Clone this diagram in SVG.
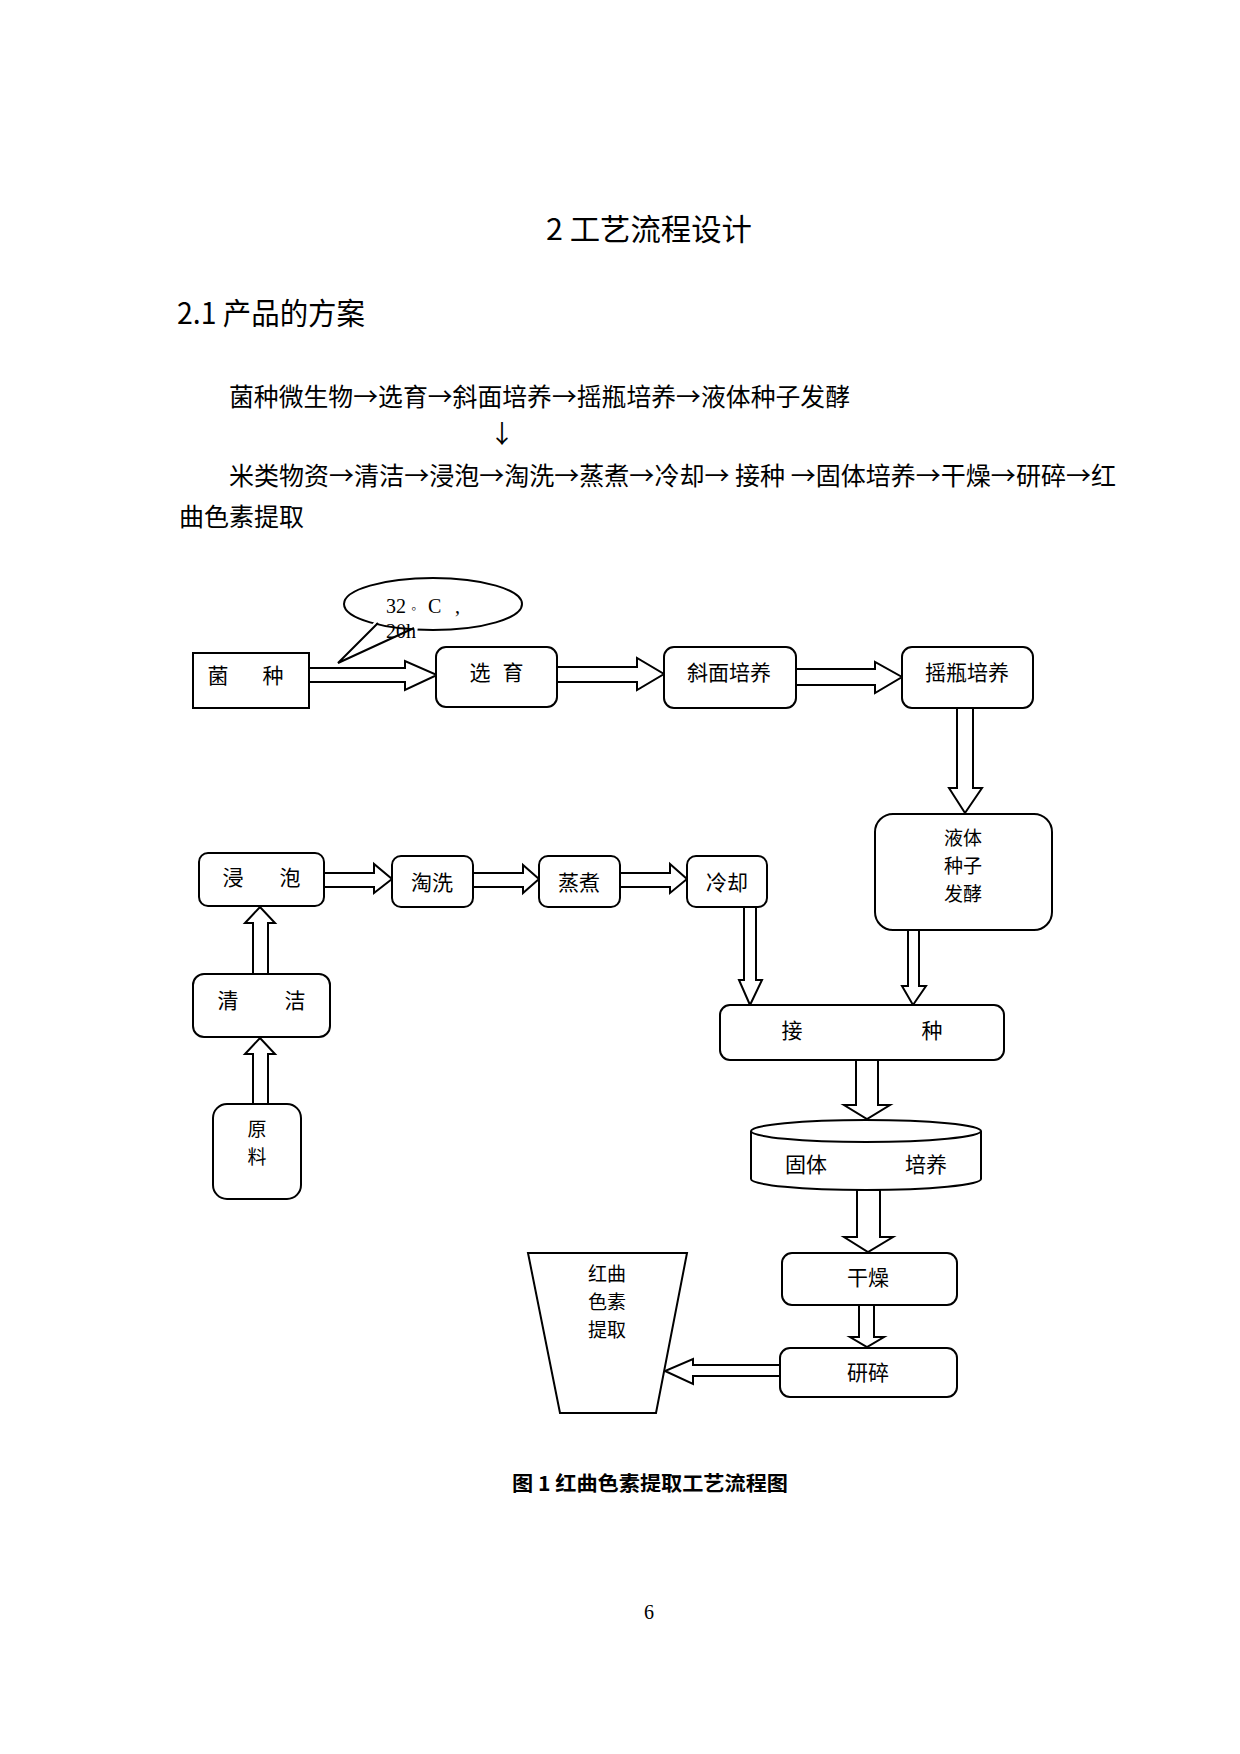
<svg xmlns="http://www.w3.org/2000/svg" width="1240" height="1754" viewBox="0 0 1240 1754">
<style>
.bg{fill:#ffffff}
.pt{font-family:"Noto Sans CJK SC","Liberation Sans",sans-serif;fill:#000}
.h1{font-size:30px}
.body{font-size:25px}
.lbl{font-family:"Noto Sans CJK SC","Liberation Sans",sans-serif;font-size:21px;fill:#000;text-anchor:middle}
.ml{font-size:19px}
.ser{font-family:"Liberation Serif",serif;fill:#000}
.cap{font-family:"Noto Sans CJK SC","Liberation Sans",sans-serif;font-size:20px;font-weight:bold;fill:#000}
.box{fill:#fff;stroke:#000;stroke-width:2}
.arr{fill:#fff;stroke:#000;stroke-width:2;stroke-linejoin:miter}
</style>
<rect class="bg" x="0" y="0" width="1240" height="1754"/>

<g id="page-text">
<text class="pt h1" x="546" y="240" textLength="206" lengthAdjust="spacingAndGlyphs">2 工艺流程设计</text>
<text class="pt h1" x="177" y="324" textLength="188" lengthAdjust="spacingAndGlyphs">2.1 产品的方案</text>
<text class="pt body" x="229" y="406" textLength="621" lengthAdjust="spacingAndGlyphs">菌种微生物→选育→斜面培养→摇瓶培养→液体种子发酵</text>
<text class="pt body" x="502" y="443" text-anchor="middle">↓</text>
<text class="pt body" x="229" y="485" textLength="887" lengthAdjust="spacingAndGlyphs">米类物资→清洁→浸泡→淘洗→蒸煮→冷却→ 接种 →固体培养→干燥→研碎→红</text>
<text class="pt body" x="179" y="526" textLength="125" lengthAdjust="spacingAndGlyphs">曲色素提取</text>
<text class="cap" x="512" y="1491" textLength="276" lengthAdjust="spacingAndGlyphs">图 1 红曲色素提取工艺流程图</text>
<text class="ser" x="649" y="1619" font-size="20" text-anchor="middle">6</text>
</g>

<g id="connectors">
<path class="arr" d="M309,668 L405,668 L405,661 L437,675 L405,690 L405,682 L309,682 Z"/>
<path class="arr" d="M557,667 L637,667 L637,658 L664,674 L637,690 L637,682 L557,682 Z"/>
<path class="arr" d="M796,669 L875,669 L875,662 L902,677 L875,693 L875,685 L796,685 Z"/>
<path class="arr" d="M957,708 L957,788 L949,788 L965,813 L982,788 L973,788 L973,708 Z"/>
<path class="arr" d="M324,873 L374,873 L374,864 L392,879 L374,893 L374,887 L324,887 Z"/>
<path class="arr" d="M473,873 L523,873 L523,865 L539,879 L523,893 L523,887 L473,887 Z"/>
<path class="arr" d="M620,873 L670,873 L670,864 L687,879 L670,893 L670,887 L620,887 Z"/>
<path class="arr" d="M253,974 L253,923 L245,923 L260,907 L275,923 L268,923 L268,974 Z"/>
<path class="arr" d="M253,1104 L253,1054 L245,1054 L260,1038 L275,1054 L268,1054 L268,1104 Z"/>
<path class="arr" d="M744,907 L744,980 L739,980 L750,1005 L762,980 L756,980 L756,907 Z"/>
<path class="arr" d="M908,930 L908,986 L902,986 L913,1005 L926,986 L919,986 L919,930 Z"/>
<path class="arr" d="M856,1060 L856,1105 L844,1105 L867,1119 L890,1105 L878,1105 L878,1060 Z"/>
<path class="arr" d="M857,1190 L857,1237 L844,1237 L868,1252 L893,1237 L880,1237 L880,1190 Z"/>
<path class="arr" d="M859,1305 L859,1337 L850,1337 L867,1347 L884,1337 L874,1337 L874,1305 Z"/>
<path class="arr" d="M780,1365 L693,1365 L693,1359 L665,1371 L693,1384 L693,1376 L780,1376 Z"/>
</g>

<g id="callout">
<ellipse class="box" cx="433" cy="604" rx="89" ry="26"/>
<path d="M376,620 L338,663 L418,626 L417,634 L376,630 Z" fill="#fff" stroke="none"/>
<path d="M378,623 L338,663 L414,628" fill="none" stroke="#000" stroke-width="2"/>
<text class="ser" font-size="20" y="613"><tspan x="386">32</tspan><tspan x="411" font-size="14">◦</tspan><tspan x="428">C</tspan><tspan x="455">,</tspan><tspan x="386" dy="25">20h</tspan></text>
</g>

<g id="node-junzhong">
<rect class="box" x="193" y="653" width="116" height="55"/>
<text class="lbl" y="683"><tspan x="218">菌</tspan><tspan x="273">种</tspan></text>
</g>
<g id="node-xuanyu">
<rect class="box" x="436" y="647" width="121" height="60" rx="10"/>
<text class="lbl" y="680"><tspan x="480">选</tspan><tspan x="513">育</tspan></text>
</g>
<g id="node-xiemian">
<rect class="box" x="664" y="647" width="132" height="61" rx="10"/>
<text class="lbl" x="729" y="680">斜面培养</text>
</g>
<g id="node-yaoping">
<rect class="box" x="902" y="647" width="131" height="61" rx="10"/>
<text class="lbl" x="967" y="680">摇瓶培养</text>
</g>
<g id="node-yeti">
<rect class="box" x="875" y="814" width="177" height="116" rx="18"/>
<text class="lbl ml" x="963" y="845">液体</text>
<text class="lbl ml" x="963" y="873">种子</text>
<text class="lbl ml" x="963" y="901">发酵</text>
</g>
<g id="node-jinpao">
<rect class="box" x="199" y="853" width="125" height="53" rx="9"/>
<text class="lbl" y="885"><tspan x="233">浸</tspan><tspan x="290">泡</tspan></text>
</g>
<g id="node-taoxi">
<rect class="box" x="392" y="856" width="81" height="51" rx="9"/>
<text class="lbl" x="432" y="890">淘洗</text>
</g>
<g id="node-zhengzhu">
<rect class="box" x="539" y="856" width="81" height="51" rx="9"/>
<text class="lbl" x="579" y="890">蒸煮</text>
</g>
<g id="node-lengque">
<rect class="box" x="687" y="856" width="80" height="51" rx="9"/>
<text class="lbl" x="727" y="890">冷却</text>
</g>
<g id="node-qingjie">
<rect class="box" x="193" y="974" width="137" height="63" rx="11"/>
<text class="lbl" y="1008"><tspan x="228">清</tspan><tspan x="295">洁</tspan></text>
</g>
<g id="node-yuanliao">
<rect class="box" x="213" y="1104" width="88" height="95" rx="14"/>
<text class="lbl ml" x="257" y="1136">原</text>
<text class="lbl ml" x="257" y="1164">料</text>
</g>
<g id="node-jiezhong">
<rect class="box" x="720" y="1005" width="284" height="55" rx="10"/>
<text class="lbl" y="1038"><tspan x="792">接</tspan><tspan x="932">种</tspan></text>
</g>
<g id="node-guti">
<path class="box" d="M751,1131 A115,11 0 0 1 981,1131 L981,1179 A115,11 0 0 1 751,1179 Z"/>
<path d="M751,1131 A115,11 0 0 0 981,1131" fill="none" stroke="#000" stroke-width="2"/>
<text class="lbl" y="1172"><tspan x="806">固体</tspan><tspan x="926">培养</tspan></text>
</g>
<g id="node-ganzao">
<rect class="box" x="782" y="1253" width="175" height="52" rx="10"/>
<text class="lbl" x="868" y="1285">干燥</text>
</g>
<g id="node-yansui">
<rect class="box" x="780" y="1348" width="177" height="49" rx="10"/>
<text class="lbl" x="868" y="1380">研碎</text>
</g>
<g id="node-tiqu">
<path class="box" d="M528,1253 L687,1253 L656,1413 L560,1413 Z"/>
<text class="lbl ml" x="607" y="1281">红曲</text>
<text class="lbl ml" x="607" y="1309">色素</text>
<text class="lbl ml" x="607" y="1337">提取</text>
</g>
</svg>
